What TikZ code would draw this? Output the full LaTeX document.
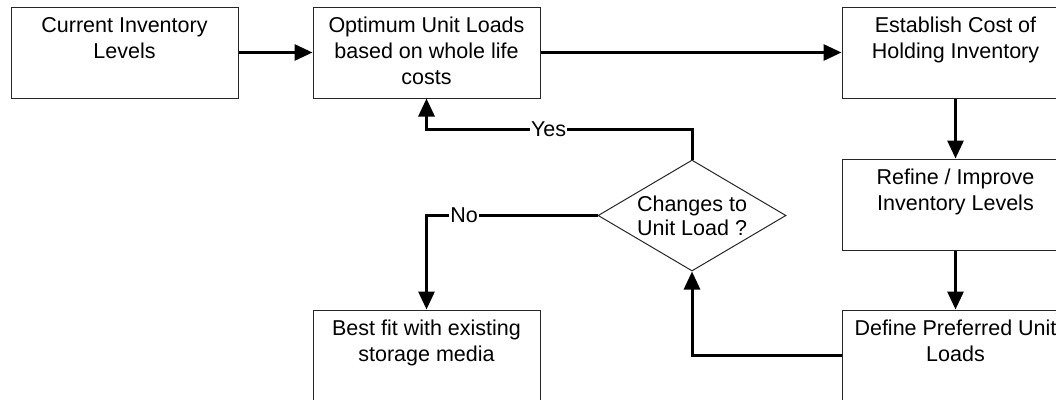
\documentclass[tikz,border=0pt]{standalone}
\usepackage{fontspec}
\setmainfont{Liberation Sans}
\usetikzlibrary{shapes.geometric,arrows.meta}

% text sits at the top of each box
\newcommand{\toptext}[1]{\parbox[c][91pt][t]{225pt}{\centering\rule{0pt}{25pt}#1}}

\tikzset{
    stage/.style={draw=black!85, line width=1pt, minimum width=227pt,
        minimum height=91pt, inner sep=0pt},
    decision/.style={diamond, shape aspect=1.7, draw=black!85, line width=1pt,
        minimum width=188pt, minimum height=111pt, inner sep=0pt, align=center,
        font=\fontsize{21.5}{24}\selectfont},
    flow/.style={line width=3pt, -{Triangle[length=18pt,width=16pt]}},
    lbl/.style={fill=white, inner sep=1pt}
}

\begin{document}
\begin{tikzpicture}[x=1pt, y=1pt, font=\fontsize{21.5}{26}\selectfont]
    % Frame
    \useasboundingbox (0,0) rectangle (1056,-399);
    \clip (0,0) rectangle (1056,-399);

    % Boxes
    \node[stage] (cur)  at (124.5,-52.5)  {\toptext{Current Inventory\\Levels}};
    \node[stage] (opt)  at (426.5,-52.5)  {\toptext{Optimum Unit Loads\\based on whole life\\costs}};
    \node[stage] (est)  at (955.5,-52.5)  {\toptext{Establish Cost of\\Holding Inventory}};
    \node[stage] (ref)  at (955.5,-204.5) {\toptext{Refine / Improve\\Inventory Levels}};
    \node[stage] (pref) at (955.5,-355.5) {\toptext{Define Preferred Unit\\Loads}};
    \node[stage] (best) at (426.5,-355.5) {\toptext{Best fit with existing\\storage media}};

    % Decision
    \node[decision] (dia) at (692,-215.5) {Changes to\\Unit Load ?};

    % Main line
    \draw[flow] (cur.east) -- (opt.west);
    \draw[flow] (opt.east) -- (est.west);
    \draw[flow] (est.south) -- (ref.north);
    \draw[flow] (ref.south) -- (pref.north);

    % Loop back
    \draw[flow] (pref.west) -| (dia.south);
    \draw[flow] (dia.north) -- ++(0,30) -| node[lbl, pos=0.27] {Yes} (opt.south);
    \draw[flow] (dia.west) -| node[lbl, pos=0.39] {No} (best.north);
\end{tikzpicture}
\end{document}
